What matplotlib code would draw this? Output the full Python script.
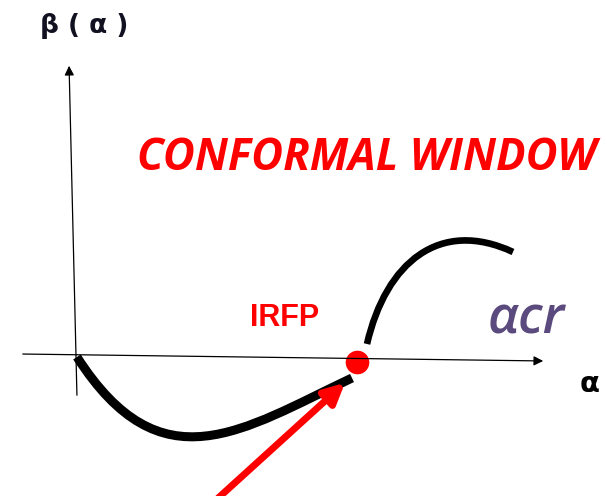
import numpy as np
import matplotlib.pyplot as plt
from matplotlib.path import Path
from matplotlib.patches import PathPatch

# bezier control points (pixel coords, y down)
lower_pts = [(77, 357), (161, 488), (242, 430), (352, 378)]
upper_pts = [(367, 344), (386, 262), (440, 218), (513, 252)]
irfp = (357, 362)

fig = plt.figure(figsize=(6.07, 4.96), dpi=100)
ax = fig.add_axes([0, 0, 1, 1])
ax.set_xlim(0, 607)
ax.set_ylim(496, 0)
ax.axis('off')

# axes arrows
ax.annotate('', xy=(69, 63), xytext=(77, 398),
            arrowprops=dict(arrowstyle='-|>', color='black', lw=0.9, mutation_scale=14))
ax.annotate('', xy=(546, 361), xytext=(20, 354),
            arrowprops=dict(arrowstyle='-|>', color='black', lw=0.9, mutation_scale=14))

codes = [Path.MOVETO, Path.CURVE4, Path.CURVE4, Path.CURVE4]
ax.add_patch(PathPatch(Path(lower_pts, codes), fill=False, ec='black', lw=6.5,
                       capstyle='butt'))
ax.add_patch(PathPatch(Path(upper_pts, codes), fill=False, ec='black', lw=4.8,
                       capstyle='butt'))

# red arrow pointing at the fixed point
ax.annotate('', xy=(347, 381), xytext=(216, 500),
            arrowprops=dict(arrowstyle='-|>', color='red', lw=5, mutation_scale=30))
ax.plot(*irfp, 'o', color='red', ms=16)

ax.text(367, 158, 'CONFORMAL WINDOW', color='red', fontsize=31.5, fontweight='bold',
        fontstyle='italic', family='Open Sans', ha='center', va='center')
ax.text(285, 318, 'IRFP', color='red', fontsize=22, fontweight='bold',
        family='Liberation Sans', ha='center', va='center')
ax.text(526, 320, 'αcr', color='#5b4a7e', fontsize=38, fontstyle='italic',
        fontweight='semibold', family='Open Sans', ha='center', va='center')
ax.text(590, 384, 'α', color='black', fontsize=21, fontweight='bold', ha='center', va='center')
ax.text(84, 26, 'β ( α )', color='#111122', fontsize=19, fontweight='bold',
        ha='center', va='center')

fig.savefig('out.png', dpi=100)
